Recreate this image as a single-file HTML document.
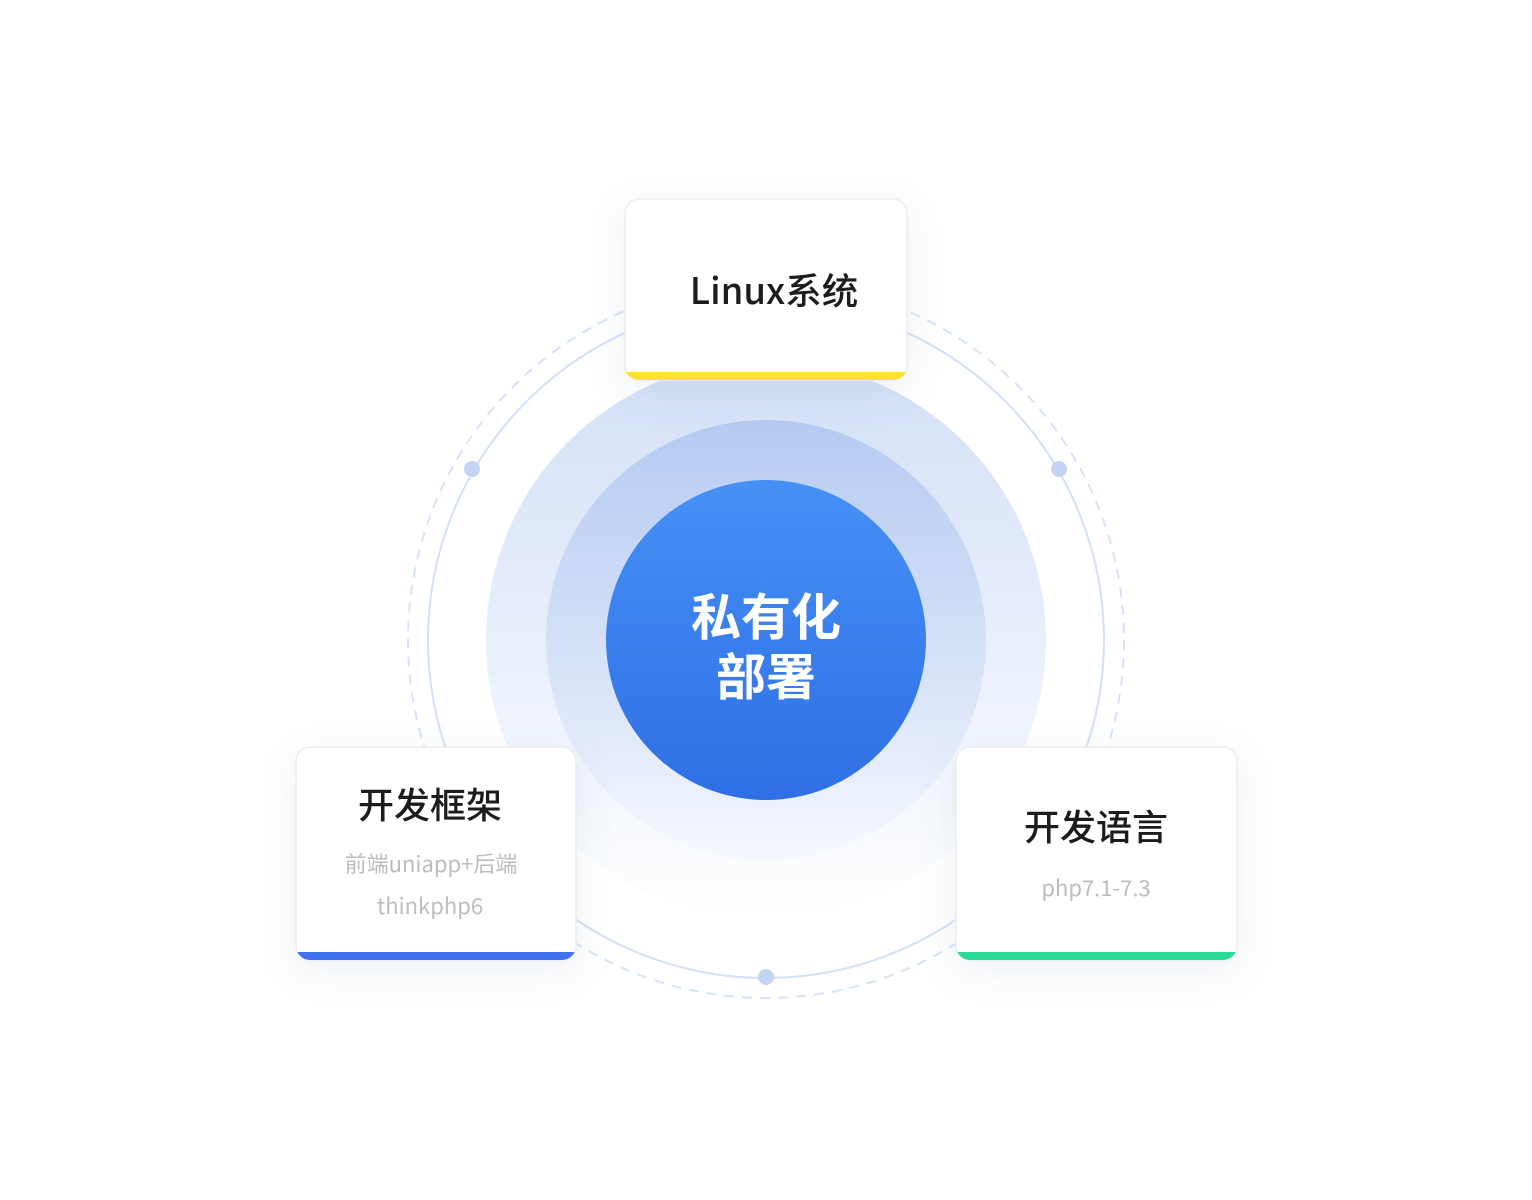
<!DOCTYPE html>
<html><head><meta charset="utf-8"><style>
html,body{margin:0;padding:0;background:#fff;width:1532px;height:1200px;overflow:hidden}
text{font-family:"Noto Sans CJK SC","Liberation Sans",sans-serif}
</style></head><body>
<svg width="1532" height="1200" viewBox="0 0 1532 1200" xmlns="http://www.w3.org/2000/svg">
<defs>
<linearGradient id="g1" x1="0" y1="0" x2="0" y2="1">
<stop offset="0" stop-color="#d3e0f7"/><stop offset="0.55" stop-color="#eaf0fb"/><stop offset="1" stop-color="#ffffff"/></linearGradient>
<linearGradient id="g2" x1="0" y1="0" x2="0" y2="1">
<stop offset="0" stop-color="#b5caf2"/><stop offset="0.6" stop-color="#d9e4f8"/><stop offset="1" stop-color="#f5f8fe"/></linearGradient>
<linearGradient id="g3" x1="0" y1="0" x2="0" y2="1">
<stop offset="0" stop-color="#4690f6"/><stop offset="1" stop-color="#2f6fe4"/></linearGradient>
<filter id="sh" x="-30%" y="-30%" width="160%" height="170%">
<feDropShadow dx="0" dy="10" stdDeviation="18" flood-color="#6a7fa8" flood-opacity="0.12"/></filter>
<clipPath id="c1"><rect x="625" y="199" width="282" height="181" rx="14"/></clipPath>
<clipPath id="c2"><rect x="296" y="747" width="280" height="213" rx="14"/></clipPath>
<clipPath id="c3"><rect x="956" y="747" width="281" height="213" rx="14"/></clipPath>
</defs>
<circle cx="766" cy="640" r="358" fill="none" stroke="#d6e2f8" stroke-width="2" stroke-dasharray="10 8"/>
<circle cx="766" cy="640" r="338" fill="none" stroke="#d3e0f8" stroke-width="2"/>
<circle cx="766" cy="640" r="280" fill="url(#g1)"/>
<circle cx="766" cy="640" r="220" fill="url(#g2)"/>
<circle cx="766" cy="640" r="160" fill="url(#g3)"/>
<circle cx="472" cy="469" r="8" fill="#c3d4f2"/>
<circle cx="1059" cy="469" r="8" fill="#c3d4f2"/>
<circle cx="766" cy="977" r="8" fill="#c3d4f2"/>
<text x="766" y="635" text-anchor="middle" font-size="50" font-weight="bold" fill="#fff">私有化</text>
<text x="766" y="695" text-anchor="middle" font-size="50" font-weight="bold" fill="#fff">部署</text>

<g filter="url(#sh)"><rect x="625" y="199" width="282" height="181" rx="14" fill="#fff" stroke="#ececec" stroke-width="1.5"/></g>
<rect x="625" y="372" width="282" height="8" fill="#fde22f" clip-path="url(#c1)"/>
<text x="774" y="304" text-anchor="middle" font-size="36.5" font-weight="500" fill="#1c1c1c">Linux系统</text>

<g filter="url(#sh)"><rect x="296" y="747" width="280" height="213" rx="14" fill="#fff" stroke="#ececec" stroke-width="1.5"/></g>
<rect x="296" y="952" width="280" height="8" fill="#4272f0" clip-path="url(#c2)"/>
<text x="430" y="818" text-anchor="middle" font-size="36" font-weight="500" fill="#1c1c1c">开发框架</text>
<text x="431" y="872" text-anchor="middle" font-size="22" fill="#bdbdbd">前端uniapp+后端</text>
<text x="430" y="914" text-anchor="middle" font-size="22" fill="#bdbdbd">thinkphp6</text>

<g filter="url(#sh)"><rect x="956" y="747" width="281" height="213" rx="14" fill="#fff" stroke="#ececec" stroke-width="1.5"/></g>
<rect x="956" y="952" width="281" height="8" fill="#27db96" clip-path="url(#c3)"/>
<text x="1096" y="840" text-anchor="middle" font-size="36" font-weight="500" fill="#1c1c1c">开发语言</text>
<text x="1096" y="896" text-anchor="middle" font-size="22" fill="#bdbdbd">php7.1-7.3</text>
</svg>
</body></html>
